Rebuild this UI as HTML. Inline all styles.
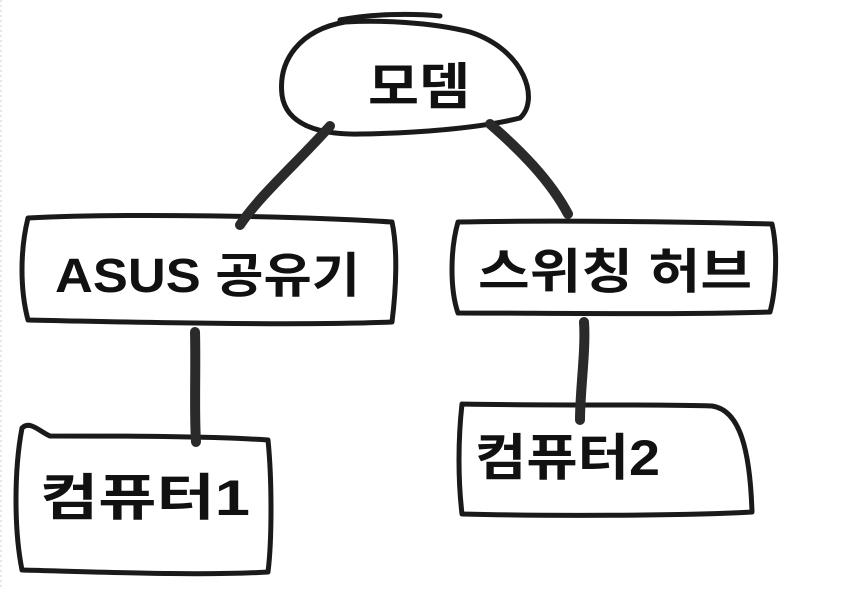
<!DOCTYPE html>
<html><head><meta charset="utf-8"><style>
html,body{margin:0;padding:0;background:#fff;}
svg{display:block;}
text{font-family:"Liberation Sans","Noto Sans CJK KR",sans-serif;font-weight:bold;fill:#111;}
</style></head><body>
<svg width="843" height="589" viewBox="0 0 843 589" xmlns="http://www.w3.org/2000/svg">
<line x1="1" y1="0" x2="1" y2="589" stroke="#ccc" stroke-width="1" stroke-dasharray="2,3"/>
<g fill="none" stroke="#1a1a1a" stroke-width="5" stroke-linecap="round" stroke-linejoin="round">
<path d="M340 20 C370 14 410 13 440 16"/>
<path d="M345 22 C300 30 278 60 282 95 C286 125 320 135 360 134 C420 133 480 128 520 118 C540 100 525 50 470 32 C430 22 380 20 345 22"/>
<path d="M28 218 C120 213 300 216 392 222 C398 250 396 290 392 322 C300 326 120 322 28 320 C20 290 20 250 28 218"/>
<path d="M458 222 C560 220 700 222 772 224 C778 250 776 290 770 312 C680 315 540 313 458 313 C450 290 450 250 458 222"/>
<path d="M22 428 C30 420 40 432 50 436 C120 436 210 436 268 440 C272 480 272 540 268 572 C200 576 100 572 22 570 C14 530 14 470 22 428"/>
<path d="M462 404 C560 406 650 404 712 406 C740 410 750 450 752 512 C680 516 540 516 462 514 C458 480 458 440 462 404"/>
</g>
<g stroke="#2a2a2a" stroke-width="10" stroke-linecap="round" fill="none">
<path d="M330 126 C300 160 260 195 240 225"/>
<path d="M490 124 C520 150 550 180 568 214"/>
<path d="M195 332 C196 370 194 410 196 442"/>
<path d="M584 322 C586 350 580 390 580 420"/>
</g>
<text x="368" y="104" font-size="50" textLength="102" lengthAdjust="spacingAndGlyphs">모뎀</text>
<text x="55" y="292" font-size="48" textLength="305" lengthAdjust="spacingAndGlyphs">ASUS 공유기</text>
<text x="478" y="288" font-size="48" textLength="274" lengthAdjust="spacingAndGlyphs">스위칭 허브</text>
<text x="40" y="515" font-size="50" textLength="210" lengthAdjust="spacingAndGlyphs">컴퓨터1</text>
<text x="475" y="475" font-size="50" textLength="185" lengthAdjust="spacingAndGlyphs">컴퓨터2</text>
</svg>
</body></html>
